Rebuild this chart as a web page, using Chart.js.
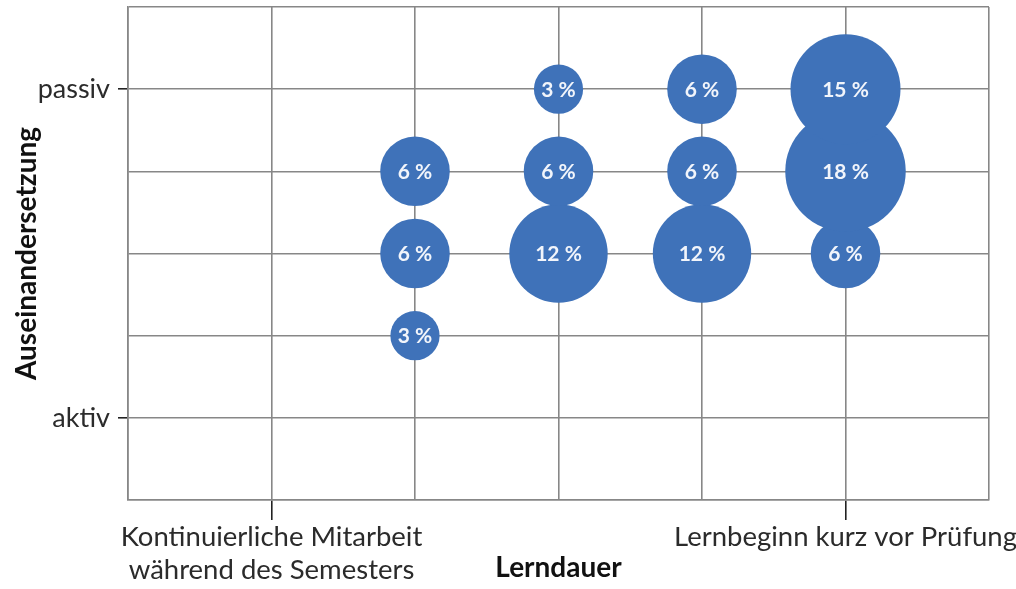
<!DOCTYPE html>
<html>
<head>
<meta charset="utf-8">
<script src="https://cdn.jsdelivr.net/npm/chart.js@4/dist/chart.umd.min.js"></script>
<style>
  html, body { margin: 0; padding: 0; background: #fff; }
  #wrap { width: 1016px; height: 589px; }
</style>
</head>
<body>
<div id="wrap"><canvas id="chart"></canvas></div>
<script>
// --- DATA ---
// Lerndauer (x) / Auseinandersetzung (y) position of each bubble, share in percent
const lerndauer = [2, 2, 2, 3, 3, 3, 4, 4, 4, 5, 5, 5];
const auseinandersetzung = [2, 3, 4, 3, 4, 5, 3, 4, 5, 3, 4, 5];
const anteil = [3, 6, 6, 12, 6, 3, 12, 6, 6, 6, 18, 15];

const xTickValues = [1, 5];
const xTickLabels = [['Kontinuierliche Mitarbeit', 'während des Semesters'], 'Lernbeginn kurz vor Prüfung'];
const yTickValues = [1, 5];
const yTickLabels = ['aktiv', 'passiv'];

const BLUE = '#3f72b9';
const GRID = '#878787';
const FONT = 'Lato, "Open Sans", sans-serif';

// bubble area ~ percent
function bubbleRadius(v) { return 14.2 * Math.sqrt(v); }

// bubble controller normally reserves space for its largest radius around the chart area,
// the original plot runs right to the edge so switch that off
const BubbleCtrl = Chart.BubbleController || Chart.controllers.bubble;
if (BubbleCtrl) BubbleCtrl.prototype.getMaxOverflow = function () { return 0; };

// Prozent-Beschriftung in die Blasen
const bubbleLabels = {
    id: 'bubbleLabels',
    afterDatasetsDraw(chart) {
        const ctx = chart.ctx;
        const meta = chart.getDatasetMeta(0);
        ctx.save();
        ctx.fillStyle = '#f2f5fb';
        ctx.font = 'bold 21px ' + FONT;
        ctx.textAlign = 'center';
        ctx.textBaseline = 'middle';
        meta.data.forEach((el, i) => {
            ctx.fillText(anteil[i] + ' %', el.x, el.y + 1);
        });
        ctx.restore();
    }
};

const points = lerndauer.map((x, i) => ({ x: x, y: auseinandersetzung[i] }));

new Chart(document.getElementById('chart'), {
    type: 'bubble',
    data: {
        datasets: [{
            data: points,
            backgroundColor: BLUE,
            borderWidth: 0,
            radius: ctx => bubbleRadius(anteil[ctx.dataIndex])
        }]
    },
    options: {
        responsive: true,
        maintainAspectRatio: false,
        animation: false,
        events: [],
        layout: { padding: { left: 0, top: 7, right: 27, bottom: 0 } },
        plugins: { legend: { display: false }, tooltip: { enabled: false } },
        scales: {
            x: {
                type: 'linear',
                min: 0, max: 6,
                afterFit: s => { s.height = 89; s.paddingLeft = 0; s.paddingRight = 0; },
                grid: {
                    color: GRID, lineWidth: 1.6, tickLength: 20,
                    tickColor: c => xTickValues.includes(c.tick.value) ? '#222' : 'rgba(0,0,0,0)'
                },
                border: { color: GRID, width: 1.6 },
                ticks: {
                    stepSize: 1, autoSkip: false, maxRotation: 0, padding: 1,
                    color: '#2b2b2b',
                    font: { family: FONT, size: 27.5, lineHeight: 1.2 },
                    callback: v => {
                        const k = xTickValues.indexOf(v);
                        return k >= 0 ? xTickLabels[k] : '';
                    }
                },
                title: {
                    display: true, text: 'Lerndauer', color: '#111',
                    font: { family: FONT, size: 28, weight: 'bold', lineHeight: 1.2 },
                    padding: { top: 0, bottom: 4 }
                }
            },
            y: {
                type: 'linear',
                min: 0, max: 6,
                afterFit: s => { s.width = 128; s.paddingTop = 0; s.paddingBottom = 0; },
                grid: {
                    color: GRID, lineWidth: 1.6, tickLength: 10,
                    tickColor: c => yTickValues.includes(c.tick.value) ? '#222' : 'rgba(0,0,0,0)'
                },
                border: { color: GRID, width: 1.6 },
                ticks: {
                    stepSize: 1, autoSkip: false, padding: 8,
                    color: '#2b2b2b',
                    font: { family: FONT, size: 27 },
                    callback: v => {
                        const k = yTickValues.indexOf(v);
                        return k >= 0 ? yTickLabels[k] : '';
                    }
                },
                title: {
                    display: true, text: 'Auseinandersetzung', color: '#111',
                    font: { family: FONT, size: 28, weight: 'bold', lineHeight: 1.2 },
                    padding: { top: 10, bottom: 0 }
                }
            }
        }
    },
    plugins: [bubbleLabels]
});
</script>
</body>
</html>
